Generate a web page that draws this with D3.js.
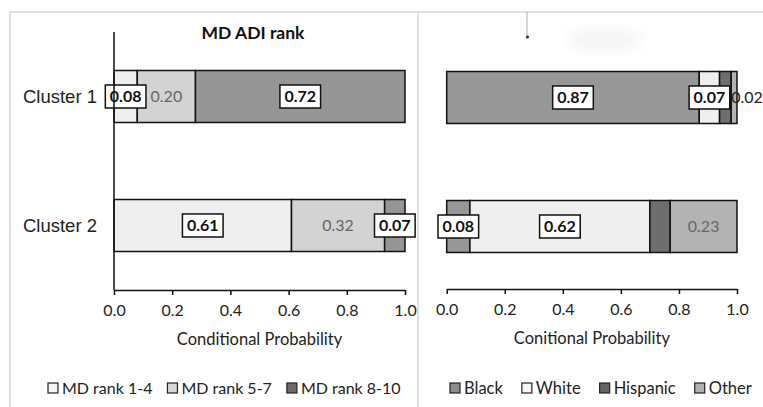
<!DOCTYPE html>
<html>
<head>
<meta charset="utf-8">
<script src="https://cdn.jsdelivr.net/npm/d3@7/dist/d3.min.js"></script>
<style>
  body { margin: 0; background: #fff; }
  svg { display: block; }
</style>
</head>
<body>
<div id="chart"></div>
<script>
// data
var categories = ["Cluster 1", "Cluster 2"];
var xTicks = [0, 0.2, 0.4, 0.6, 0.8, 1.0];

var adiSeries = ["MD rank 1-4", "MD rank 5-7", "MD rank 8-10"];
var adiValues = [[0.08, 0.20, 0.72], [0.61, 0.32, 0.07]];
var adiLabels = [["box", "plain", "box"], ["box", "plain", "box"]];

var raceSeries = ["Black", "White", "Hispanic", "Other"];
var raceValues = [[0.87, 0.07, 0.04, 0.02], [0.08, 0.62, 0.07, 0.23]];
var raceLabels = [["box", "box", "none", "plain"], ["box", "box", "none", "plain"]];

var W = 763, H = 407;
var svg = d3.select("#chart").append("svg").attr("width", W).attr("height", H);

var uiFont = "Lato, 'Open Sans', sans-serif";

// panel frame
var frame = svg.append("g").attr("stroke", "#d6d6d6").attr("stroke-width", 1.5);
frame.append("line").attr("x1", 10).attr("x2", W).attr("y1", 12).attr("y2", 12);
frame.append("line").attr("x1", 10).attr("x2", 10).attr("y1", 12).attr("y2", H);
frame.append("line").attr("x1", 418).attr("x2", 418).attr("y1", 12).attr("y2", H);

// scan smudges in the right panel
var defs = svg.append("defs");
defs.append("filter").attr("id", "blur").append("feGaussianBlur").attr("stdDeviation", 7);
svg.append("ellipse").attr("cx", 605).attr("cy", 40).attr("rx", 38).attr("ry", 12)
    .attr("fill", "#f4f4f4").attr("filter", "url(#blur)");
svg.append("line").attr("x1", 527).attr("x2", 527).attr("y1", 12).attr("y2", 36)
    .attr("stroke", "#999").attr("stroke-width", 0.8);
svg.append("circle").attr("cx", 527.5).attr("cy", 37).attr("r", 1.6).attr("fill", "#333");

/**
 * Build one stacked-bar panel.
 */
function drawPanel(opts) {
    var g = svg.append("g");
    var x = d3.scaleLinear().domain([0, 1]).range(opts.xRange);
    var y = d3.scaleBand().domain(categories).range(opts.yRange)
        .paddingInner(0.597).paddingOuter(0.2985);
    var color = d3.scaleOrdinal().domain(opts.series).range(opts.colors);

    // bars
    categories.forEach(function (cat, ci) {
        var cum = 0;
        var row = opts.values[ci];
        var segs = row.map(function (v, si) {
            var s = { cat: cat, series: opts.series[si], v: v, x0: cum, x1: cum + v, label: opts.labels[ci][si] };
            cum += v;
            return s;
        });
        g.selectAll(null).data(segs).enter().append("rect")
            .attr("x", function (d) { return x(d.x0); })
            .attr("width", function (d) { return x(d.x1) - x(d.x0); })
            .attr("y", y(cat))
            .attr("height", y.bandwidth())
            .attr("fill", function (d) { return color(d.series); })
            .attr("stroke", "#111")
            .attr("stroke-width", 1.5);

        var cy = y(cat) + y.bandwidth() / 2;
        segs.forEach(function (d) {
            if (d.label == "none") return;
            var cx = (x(d.x0) + x(d.x1)) / 2;
            var txt = d.v.toFixed(2);
            if (d.label == "box") {
                var t = g.append("text")
                    .attr("x", cx).attr("y", cy)
                    .attr("text-anchor", "middle").attr("dy", "0.36em")
                    .style("font-family", uiFont).style("font-weight", 700)
                    .style("font-size", "16px").attr("fill", "#111")
                    .text(txt);
                var bb = t.node().getBBox();
                g.insert("rect", function () { return t.node(); })
                    .attr("x", cx - (bb.width + 9) / 2).attr("y", cy - 11.5)
                    .attr("width", bb.width + 9).attr("height", 23)
                    .attr("fill", "#fff").attr("stroke", "#111").attr("stroke-width", 1.5);
            } else {
                var narrow = x(d.x1) - x(d.x0) < 20;
                g.append("text")
                    .attr("x", narrow ? x(d.x0) : cx).attr("y", cy)
                    .attr("text-anchor", narrow ? "start" : "middle").attr("dy", "0.36em")
                    .style("font-family", uiFont).style("font-size", "16px")
                    .attr("fill", narrow ? "#222" : "#666")
                    .text(txt);
            }
        });
    });

    // x axis
    var ay = opts.axisY;
    var axis = g.append("g").attr("transform", "translate(0," + ay + ")")
        .call(d3.axisBottom(x).tickValues(xTicks).tickSize(5).tickSizeOuter(0)
            .tickFormat(d3.format(".1f")));
    axis.select(".domain").attr("stroke", "#111").attr("stroke-width", 1.5);
    axis.selectAll(".tick line").attr("stroke", "#111").attr("stroke-width", 1.5);
    axis.selectAll(".tick text").attr("y", 15)
        .style("font-family", uiFont).style("font-size", "16px").attr("fill", "#222");

    g.append("text")
        .attr("x", (opts.xRange[0] + opts.xRange[1]) / 2).attr("y", ay + 55)
        .attr("text-anchor", "middle")
        .style("font-family", uiFont).style("font-size", "16.5px").attr("fill", "#222")
        .text(opts.axisTitle);

    if (opts.showCats) {
        g.append("line")
            .attr("x1", x(0)).attr("x2", x(0))
            .attr("y1", opts.yRange[0]).attr("y2", ay)
            .attr("stroke", "#111").attr("stroke-width", 1.5);
        g.selectAll(null).data(categories).enter().append("text")
            .attr("x", x(0) - 17)
            .attr("y", function (d) { return y(d) + y.bandwidth() / 2; })
            .attr("dy", "0.35em").attr("text-anchor", "end")
            .style("font-family", "'Liberation Sans', Arial, sans-serif")
            .style("font-size", "18.5px").attr("fill", "#222")
            .text(function (d) { return d; });
    }

    if (opts.title) {
        g.append("text")
            .attr("x", 253).attr("y", 39)
            .attr("text-anchor", "middle")
            .style("font-family", uiFont).style("font-weight", 700)
            .style("font-size", "17.5px").attr("fill", "#111")
            .text(opts.title);
    }

    // legend
    var lg = g.append("g").attr("transform", "translate(" + opts.legendX + ",388)");
    var lx = 0;
    opts.series.forEach(function (s, i) {
        lg.append("rect").attr("x", lx).attr("y", -5).attr("width", 10).attr("height", 10)
            .attr("fill", opts.legendColors[i])
            .attr("stroke", "#222").attr("stroke-width", 1.2);
        var t = lg.append("text").attr("x", lx + 14).attr("y", 0).attr("dy", "0.35em")
            .style("font-family", uiFont).style("font-size", opts.legendSize).attr("fill", "#222")
            .text(s);
        lx += 14 + t.node().getComputedTextLength() + opts.legendGap;
    });
}

drawPanel({
    series: adiSeries,
    values: adiValues,
    labels: adiLabels,
    colors: ["#efefef", "#d3d3d3", "#959595"],
    legendColors: ["#f6f6f6", "#d8d8d8", "#6c6c6c"],
    xRange: [114, 405],
    yRange: [32, 290],
    axisY: 290,
    axisTitle: "Conditional Probability",
    showCats: true,
    title: "MD ADI rank",
    legendX: 48,
    legendGap: 15,
    legendSize: "16px"
});

drawPanel({
    series: raceSeries,
    values: raceValues,
    labels: raceLabels,
    colors: ["#979797", "#efefef", "#6e6e6e", "#b3b3b3"],
    legendColors: ["#8c8c8c", "#f6f6f6", "#666666", "#b0b0b0"],
    xRange: [446.7, 737],
    yRange: [33, 291],
    axisY: 289,
    axisTitle: "Conitional Probability",
    showCats: false,
    title: null,
    legendX: 450,
    legendGap: 19,
    legendSize: "16.5px"
});
</script>
</body>
</html>
